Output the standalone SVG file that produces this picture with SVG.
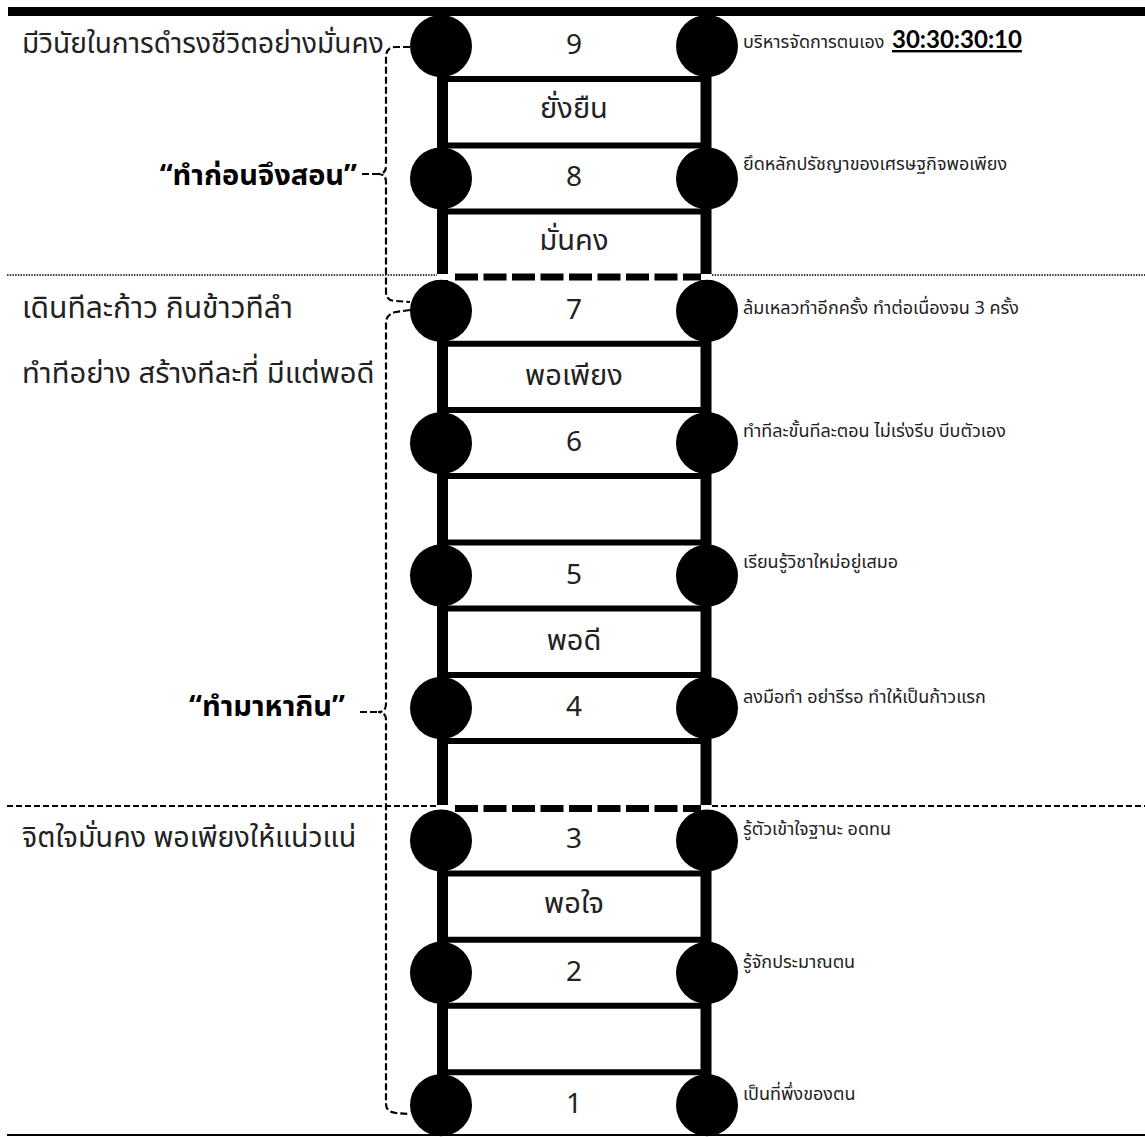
<svg xmlns="http://www.w3.org/2000/svg" width="1145" height="1137" viewBox="0 0 1145 1137">
<style>
text { font-family: "Noto Sans Thai", "Noto Sans", "DejaVu Sans", sans-serif; fill: #222; }
.left { font-size: 28.5px; }
.quote { font-size: 29px; font-weight: bold; fill: #000; }
.num { font-size: 28px; text-anchor: middle; }
.box { font-size: 29px; text-anchor: middle; }
.right { font-size: 18px; }
.ratio { font-family: Lato, "Liberation Sans", sans-serif; font-size: 24px; font-weight: bold; fill: #000; }
.rail { stroke: #000; stroke-width: 11; }
.rung { stroke: #000; stroke-width: 6; }
.drung { stroke: #000; stroke-width: 7; stroke-dasharray: 23 5.5; }
.node circle { fill: #000; }
.brace { fill: none; stroke: #000; stroke-width: 2.2; stroke-dasharray: 7 3; }
.dot { stroke: #000; stroke-width: 1.5; stroke-dasharray: 1.5 1.2; }
.dash { stroke: #000; stroke-width: 1.8; stroke-dasharray: 6 3; }
</style>

<!-- frame lines -->
<rect x="8" y="7" width="1137" height="9" fill="#000"/>
<line x1="7" y1="1135" x2="1145" y2="1135" stroke="#000" stroke-width="2"/>
<line class="dot" x1="7" y1="275" x2="437" y2="275"/>
<line class="dot" x1="712" y1="275" x2="1145" y2="275"/>
<line class="dash" x1="7" y1="806" x2="437" y2="806"/>
<line class="dash" x1="712" y1="806" x2="1145" y2="806"/>

<!-- connectors: ladder structure and braces -->
<g id="connectors">
  <line class="rung" x1="442" y1="79" x2="706" y2="79"/>
  <line class="rung" x1="442" y1="145.4" x2="706" y2="145.4"/>
  <line class="rung" x1="442" y1="211.4" x2="706" y2="211.4"/>
  <line class="drung" x1="455" y1="277" x2="701" y2="277"/>
  <line class="rung" x1="442" y1="343.8" x2="706" y2="343.8"/>
  <line class="rung" x1="442" y1="410" x2="706" y2="410"/>
  <line class="rung" x1="442" y1="476" x2="706" y2="476"/>
  <line class="rung" x1="442" y1="542.6" x2="706" y2="542.6"/>
  <line class="rung" x1="442" y1="608.6" x2="706" y2="608.6"/>
  <line class="rung" x1="442" y1="675" x2="706" y2="675"/>
  <line class="rung" x1="442" y1="741" x2="706" y2="741"/>
  <line class="drung" x1="455" y1="808.5" x2="701" y2="808.5"/>
  <line class="rung" x1="442" y1="873.4" x2="706" y2="873.4"/>
  <line class="rung" x1="442" y1="939.8" x2="706" y2="939.8"/>
  <line class="rung" x1="442" y1="1005.8" x2="706" y2="1005.8"/>
  <line class="rung" x1="442" y1="1072.2" x2="706" y2="1072.2"/>
  <line class="rail" x1="442.5" y1="16" x2="442.5" y2="274"/>
  <line class="rail" x1="442.5" y1="280" x2="442.5" y2="805"/>
  <line class="rail" x1="442.5" y1="812" x2="442.5" y2="1105"/>
  <line class="rail" x1="706" y1="16" x2="706" y2="274"/>
  <line class="rail" x1="706" y1="280" x2="706" y2="805"/>
  <line class="rail" x1="706" y1="812" x2="706" y2="1105"/>
  <path class="brace" d="M410,47 L396,47 Q386,47 386,57 L386,166 Q386,174 378,174 Q386,174 386,182 L386,292 Q386,301 396,301 L410,302"/>
  <path class="brace" d="M362,174 L378,174"/>
  <path class="brace" d="M410,310 L396,312 Q386,314 386,323 L386,704 Q386,712 378,712 Q386,712 386,720 L386,1104 Q386,1112 396,1113 L410,1114"/>
  <path class="brace" d="M360,712 L378,712"/>
</g>

<!-- rows -->
<g id="row9" class="node"><circle cx="441" cy="46" r="31"/><circle cx="707" cy="46" r="31"/><text class="num" x="574" y="54">9</text><text class="right" x="743" y="48">บริหารจัดการตนเอง</text><text class="ratio" x="892" y="48" text-decoration="underline">30:30:30:10</text></g>
<g id="row8" class="node"><circle cx="441" cy="178.4" r="31"/><circle cx="707" cy="178.4" r="31"/><text class="num" x="574" y="186.4">8</text><text class="right" x="743" y="170">ยึดหลักปรัชญาของเศรษฐกิจพอเพียง</text></g>
<g id="row7" class="node"><circle cx="441" cy="310.8" r="31"/><circle cx="707" cy="310.8" r="31"/><text class="num" x="574" y="318.8">7</text><text class="right" x="743" y="314">ล้มเหลวทำอีกครั้ง ทำต่อเนื่องจน 3 ครั้ง</text></g>
<g id="row6" class="node"><circle cx="441" cy="443.2" r="31"/><circle cx="707" cy="443.2" r="31"/><text class="num" x="574" y="451.2">6</text><text class="right" x="743" y="437">ทำทีละขั้นทีละตอน ไม่เร่งรีบ บีบตัวเอง</text></g>
<g id="row5" class="node"><circle cx="441" cy="575.6" r="31"/><circle cx="707" cy="575.6" r="31"/><text class="num" x="574" y="583.6">5</text><text class="right" x="743" y="568">เรียนรู้วิชาใหม่อยู่เสมอ</text></g>
<g id="row4" class="node"><circle cx="441" cy="708" r="31"/><circle cx="707" cy="708" r="31"/><text class="num" x="574" y="716">4</text><text class="right" x="743" y="703">ลงมือทำ อย่ารีรอ ทำให้เป็นก้าวแรก</text></g>
<g id="row3" class="node"><circle cx="441" cy="840.4" r="31"/><circle cx="707" cy="840.4" r="31"/><text class="num" x="574" y="848.4">3</text><text class="right" x="743" y="835">รู้ตัวเข้าใจฐานะ อดทน</text></g>
<g id="row2" class="node"><circle cx="441" cy="972.8" r="31"/><circle cx="707" cy="972.8" r="31"/><text class="num" x="574" y="980.8">2</text><text class="right" x="743" y="968">รู้จักประมาณตน</text></g>
<g id="row1" class="node"><circle cx="441" cy="1105.2" r="31"/><circle cx="707" cy="1105.2" r="31"/><text class="num" x="574" y="1113.2">1</text><text class="right" x="743" y="1100">เป็นที่พึ่งของตน</text></g>

<!-- box labels -->
<g id="steps">
  <text class="box" x="574" y="118">ยั่งยืน</text>
  <text class="box" x="574" y="250">มั่นคง</text>
  <text class="box" x="574" y="385">พอเพียง</text>
  <text class="box" x="574" y="650">พอดี</text>
  <text class="box" x="574" y="913">พอใจ</text>
</g>

<!-- left labels -->
<g id="left-labels">
  <text class="left" x="22" y="53" style="font-size:28px">มีวินัยในการดำรงชีวิตอย่างมั่นคง</text>
  <text class="quote" x="357" y="185" text-anchor="end">“ทำก่อนจึงสอน”</text>
  <text class="left" x="22" y="318" style="font-size:30px">เดินทีละก้าว กินข้าวทีลำ</text>
  <text class="left" x="22" y="383" style="font-size:29.2px">ทำทีอย่าง สร้างทีละที่ มีแต่พอดี</text>
  <text class="quote" x="345" y="716" text-anchor="end">“ทำมาหากิน”</text>
  <text class="left" x="22" y="847" style="font-size:28.6px">จิตใจมั่นคง พอเพียงให้แน่วแน่</text>
</g>
</svg>
